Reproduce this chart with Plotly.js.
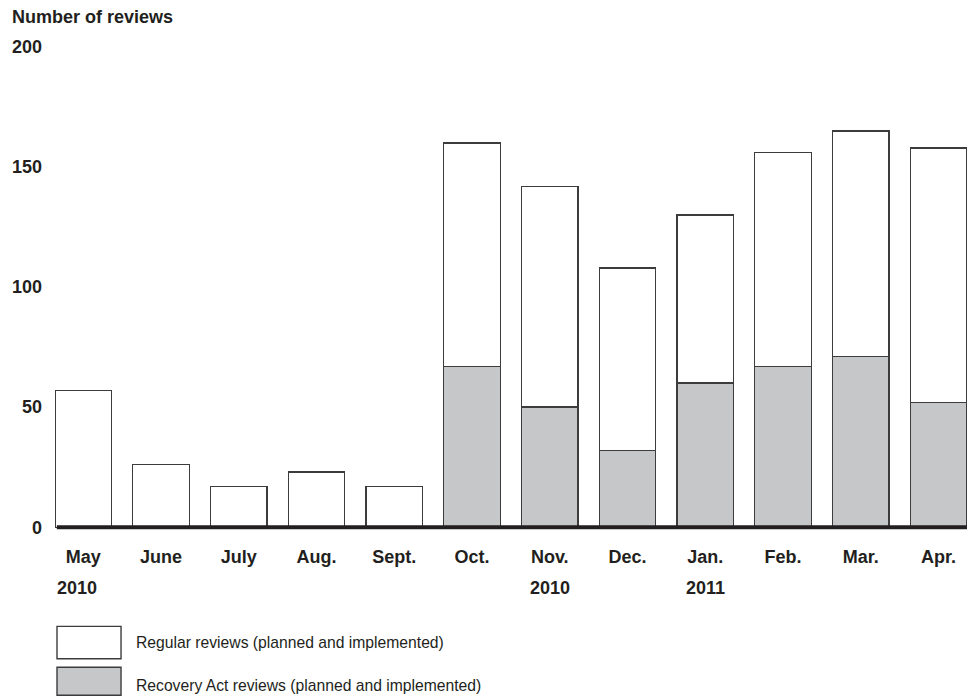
<!DOCTYPE html>
<html>
<head>
<meta charset="utf-8">
<script src="https://cdn.plot.ly/plotly-3.0.1.min.js"></script>
<style>html,body{margin:0;padding:0;background:#fff;}#chart{width:972px;height:696px;}</style>
</head>
<body>
<div id="chart"></div>
<script>
const months = ["May", "June", "July", "Aug.", "Sept.", "Oct.", "Nov.", "Dec.", "Jan.", "Feb.", "Mar.", "Apr."];
const recoveryAct = [0, 0, 0, 0, 0, 67, 50, 32, 60, 67, 71, 52];
const regular = [57, 26, 17, 23, 17, 93, 92, 76, 70, 89, 94, 106];
const yearLabels = [["May", "2010"], ["Nov.", "2010"], ["Jan.", "2011"]];
const yTicks = [0, 50, 100, 150, 200];
const legendLabels = ["Regular reviews (planned and implemented)", "Recovery Act reviews (planned and implemented)"];

const FONT = "'Liberation Sans', Arial, Helvetica, sans-serif";
const INK = "#231f20";
const GRAY = "#c6c7c9";
const EDGE = "#3c3c3c";

const traces = [
  {type: "bar", x: months, y: recoveryAct, name: legendLabels[1],
   marker: {color: GRAY, line: {color: EDGE, width: 1.4}}, showlegend: false, hoverinfo: "x+y"},
  {type: "bar", x: months, y: regular, name: legendLabels[0],
   marker: {color: "#ffffff", line: {color: EDGE, width: 1.4}}, showlegend: false, hoverinfo: "x+y"}
];

const annotations = yearLabels.map(([m, yr], i) => ({
  x: m, xref: "x", y: -0.1159, yref: "paper", text: yr, showarrow: false,
  xanchor: "center", yanchor: "middle", xshift: i === 0 ? -6 : 0,
  font: {family: FONT, size: 18, color: INK, weight: "bold"}
}));
annotations.push(
  {x: 0.0866, xref: "paper", y: -0.227, yref: "paper", text: legendLabels[0], showarrow: false,
   xanchor: "left", yanchor: "middle", font: {family: FONT, size: 15.7, color: INK}},
  {x: 0.0866, xref: "paper", y: -0.316, yref: "paper", text: legendLabels[1], showarrow: false,
   xanchor: "left", yanchor: "middle", font: {family: FONT, size: 15.7, color: INK}}
);

const shapes = [
  {type: "line", xref: "paper", yref: "y", x0: 0.002, x1: 1, y0: 0, y1: 0,
   line: {color: INK, width: 4}, layer: "above"},
  {type: "rect", xref: "paper", yref: "paper", x0: 0.0022, x1: 0.0724, y0: -0.1945, y1: -0.2614,
   line: {color: EDGE, width: 1.4}, fillcolor: "#ffffff"},
  {type: "rect", xref: "paper", yref: "paper", x0: 0.0022, x1: 0.0724, y0: -0.2788, y1: -0.3365,
   line: {color: EDGE, width: 1.4}, fillcolor: GRAY}
];

const layout = {
  width: 972, height: 696,
  margin: {l: 55, r: 5, t: 47, b: 164},
  paper_bgcolor: "#ffffff", plot_bgcolor: "#ffffff",
  barmode: "stack", bargap: 0.273,
  font: {family: FONT, color: INK},
  title: {text: "Number of reviews", xref: "container", yref: "container",
          x: 0.0123, xanchor: "left", y: 0.9756, yanchor: "middle",
          font: {family: FONT, size: 18, color: INK, weight: "bold"}},
  xaxis: {range: [-0.364, 11.367], showgrid: false, zeroline: false, showline: false,
          ticks: "", ticklabelstandoff: 12, fixedrange: true,
          tickfont: {family: FONT, size: 18, color: INK, weight: "bold"}},
  yaxis: {range: [-2, 200], tickvals: yTicks, showgrid: false, zeroline: false, showline: false,
          ticks: "", ticklabelstandoff: 12, fixedrange: true,
          tickfont: {family: FONT, size: 18, color: INK, weight: "bold"}},
  annotations: annotations,
  shapes: shapes
};

Plotly.newPlot("chart", traces, layout, {displayModeBar: false, staticPlot: true});
</script>
</body>
</html>
